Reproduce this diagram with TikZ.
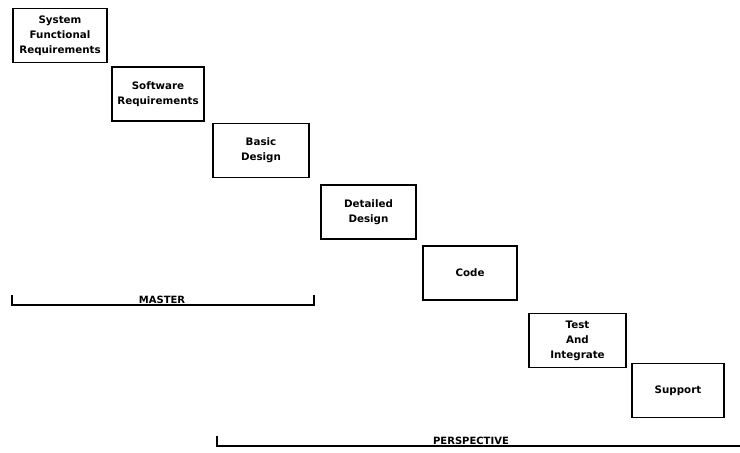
\documentclass[tikz,border=0pt]{standalone}
\usepackage{fontspec}
\newfontfamily\dotfont{DejaVu Sans}
\usetikzlibrary{calc}

\begin{document}
\begin{tikzpicture}[x=1pt, y=-1pt,
  phase/.style={draw, line width=1.8pt, align=center, inner sep=0pt,
    minimum width=94pt, minimum height=54pt,
    font=\dotfont\bfseries\fontsize{10.3}{15}\selectfont},
  span/.style={font=\dotfont\bfseries\fontsize{10}{11}\selectfont, inner sep=1pt}]
  \useasboundingbox (0,0) rectangle (740,453);
  % the seven phases, stepping down to the right
  \node[phase] (sysreq) at (60,35.5) {System\\Functional\\Requirements};
  \node[phase, minimum width=92pt] (swreq) at (158,94) {Software\\Requirements};
  \node[phase, minimum width=96pt] (basic) at (261,150.5) {Basic\\Design};
  \node[phase, minimum width=95pt] (detail) at (368.5,212) {Detailed\\Design};
  \node[phase] (code) at (470,273) {Code};
  \node[phase, minimum width=97pt] (test) at (577.5,340.5) {Test\\And\\Integrate};
  \node[phase, minimum width=92pt] (support) at (678,390.5) {Support};
  % master span
  \coordinate (mL) at (12,305);
  \coordinate (mR) at (314,305);
  \draw[line width=1.8pt] ([yshift=10pt]mL) -- (mL) -- (mR) -- ([yshift=10pt]mR);
  \node[span, above] (master) at (162,305) {MASTER};
  % perspective span
  \coordinate (pL) at (217,446);
  \coordinate (pR) at (740,446);
  \draw[line width=1.8pt] ([yshift=10pt]pL) -- (pL) -- (pR);
  \node[span, above] (persp) at (471,446) {PERSPECTIVE};
\end{tikzpicture}
\end{document}
